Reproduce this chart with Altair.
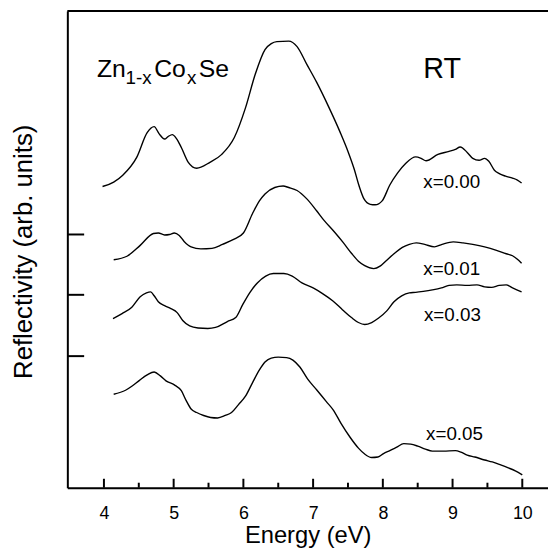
import altair as alt
import pandas as pd

# ---- data (energy in eV, reflectivity in arb. units) ----
energy_000 = [3.98, 4.14, 4.27, 4.47, 4.62, 4.72, 4.79, 4.87, 4.92, 4.98, 5.04, 5.11, 5.21, 5.33,
              5.52, 5.69, 5.87, 6.03, 6.17, 6.31, 6.40, 6.48, 6.65, 6.77, 6.91, 7.05, 7.23, 7.39,
              7.50, 7.59, 7.66, 7.73, 7.82, 7.89, 7.99, 8.10, 8.21, 8.33, 8.47, 8.55, 8.62, 8.79,
              8.95, 9.04, 9.11, 9.21, 9.29, 9.38, 9.46, 9.52, 9.60, 9.67, 9.76, 9.86, 9.93, 9.99]
refl_000 = [304.5, 309, 316, 334, 359, 365, 358, 352.5, 355, 357, 353, 344, 329, 323,
            329, 337, 354, 384, 418, 443, 449, 451, 451.5, 446, 428, 410, 384, 359,
            340, 322, 305, 292, 286.5, 286, 290, 306, 318, 328, 334.5, 333, 330.5, 337,
            340, 342, 344.5, 339, 333, 331, 333, 330, 321, 317.5, 315, 313, 311, 308]

energy_001 = [4.14, 4.33, 4.52, 4.71, 4.78, 4.87, 4.94, 5.01, 5.08, 5.15, 5.25, 5.39, 5.55, 5.70,
              5.86, 6.00, 6.13, 6.23, 6.31, 6.45, 6.57, 6.65, 6.77, 6.91, 7.05, 7.16, 7.30, 7.43,
              7.55, 7.65, 7.74, 7.87, 7.96, 8.04, 8.16, 8.28, 8.38, 8.48, 8.60, 8.74, 8.85, 9.01,
              9.15, 9.29, 9.46, 9.63, 9.77, 9.86, 9.93, 9.99]
refl_001 = [230.5, 234, 245, 257, 257.5, 255.5, 256, 257.5, 255, 249, 243.5, 241.5, 242, 246,
            251, 257.5, 277, 290, 297, 303.5, 305, 303.5, 300.5, 292, 280, 270, 259, 248,
            237, 229, 224.5, 221.5, 224, 229, 236.5, 243, 246, 247.5, 246, 243.5, 246, 248.5,
            247.5, 246, 243.5, 240, 236.5, 234.5, 231, 227]

energy_003 = [4.13, 4.26, 4.40, 4.52, 4.61, 4.67, 4.72, 4.78, 4.87, 4.96, 5.05, 5.13, 5.23, 5.35,
              5.49, 5.60, 5.77, 5.89, 5.99, 6.09, 6.20, 6.32, 6.43, 6.58, 6.70, 6.84, 7.00, 7.13,
              7.28, 7.42, 7.55, 7.65, 7.74, 7.84, 7.94, 8.06, 8.16, 8.27, 8.38, 8.47, 8.58, 8.71,
              8.84, 8.95, 9.06, 9.21, 9.35, 9.46, 9.56, 9.67, 9.77, 9.86, 9.99]
refl_003 = [171, 176, 182.5, 193, 197, 198, 194, 188, 184, 181, 177, 169, 163.5, 161.5,
            161, 162, 168, 172, 185, 197, 207, 214, 216.5, 216.5, 214, 207, 202, 196.5,
            189, 180, 172, 167, 165, 167, 171.5, 179, 188, 194, 197, 197.5, 198.5, 200,
            202, 204.5, 205, 204.5, 205, 203, 202.5, 204.5, 205, 202, 198]

energy_005 = [4.14, 4.31, 4.41, 4.51, 4.62, 4.72, 4.81, 4.89, 5.01, 5.11, 5.18, 5.25, 5.33, 5.43,
              5.53, 5.63, 5.74, 5.83, 5.93, 6.03, 6.13, 6.23, 6.31, 6.40, 6.50, 6.62, 6.71, 6.81,
              6.92, 7.05, 7.19, 7.29, 7.40, 7.53, 7.65, 7.74, 7.84, 7.93, 8.01, 8.10, 8.20, 8.30,
              8.40, 8.50, 8.61, 8.71, 8.87, 9.04, 9.12, 9.21, 9.32, 9.46, 9.57, 9.69, 9.80, 9.90,
              10.00]
refl_005 = [94.5, 98.5, 103, 108.5, 114, 117, 113, 108, 104, 98, 88, 79.5, 76, 73,
            71, 70.5, 73, 76, 84, 92.5, 106, 119, 127, 131, 132, 131.5, 129, 122,
            110, 99, 87, 78.5, 65, 51, 40, 34, 30.5, 31, 34.5, 37.5, 41, 44.5,
            44, 42, 39, 37, 37, 37.5, 36, 33, 31, 28, 26, 23, 20, 17,
            13]

series_names = ["x=0.00", "x=0.01", "x=0.03", "x=0.05"]
label_energy = [8.58, 8.58, 8.59, 8.62]
label_refl = [303, 215, 169, 48]

major_ticks = [4, 5, 6, 7, 8, 9, 10]
minor_ticks = [4.5, 5.5, 6.5, 7.5, 8.5, 9.5]
y_ticks = [133, 195, 256]

# formula annotation tokens (text, energy, refl, is_subscript)
formula_text = ["Zn", "1-x", "Co", "x", "Se"]
formula_energy = [3.90, 4.31, 4.72, 5.19, 5.36]
formula_refl = [415, 408, 415, 408, 415]
formula_sub = [False, True, False, True, False]

# ---- layout ----
X0, X1 = 3.4752, 10.3688
Y0, Y1 = 0, 482
W, H = 486, 482
FONT = "Liberation Sans"

frames = []
for name, e, r in zip(series_names, [energy_000, energy_001, energy_003, energy_005],
                      [refl_000, refl_001, refl_003, refl_005]):
    frames.append(pd.DataFrame({"E": e, "R": r, "series": name}))
df = pd.concat(frames, ignore_index=True)

xs = alt.Scale(domain=[X0, X1], nice=False, zero=False)
ys = alt.Scale(domain=[Y0, Y1], nice=False, zero=False)

x_axis = alt.Axis(
    values=major_ticks, title="Energy (eV)", ticks=False, labelPadding=17,
    labelFontSize=18, labelFont=FONT, labelColor="black",
    titleFontSize=24, titleFont=FONT, titleFontWeight="normal", titleColor="black",
    titlePadding=1, domainColor="black", domainWidth=2, grid=False)
y_axis = alt.Axis(
    labels=False, ticks=False, title="Reflectivity (arb. units)",
    titleFontSize=26, titleFont=FONT, titleFontWeight="normal", titleColor="black",
    titleX=-44, titleY=243, titleBaseline="middle", titleAlign="center", titleAngle=270,
    domainColor="black", domainWidth=2, grid=False)

lines = alt.Chart(df).mark_line(color="black", strokeWidth=1.4, interpolate="monotone").encode(
    x=alt.X("E:Q", scale=xs, axis=x_axis),
    y=alt.Y("R:Q", scale=ys, axis=y_axis),
    detail="series:N",
)

tick_df = pd.DataFrame({
    "E": major_ticks + minor_ticks,
    "y0": [0] * (len(major_ticks) + len(minor_ticks)),
    "y1": [9] * len(major_ticks) + [5] * len(minor_ticks),
})
ticks_x = alt.Chart(tick_df).mark_rule(color="black", strokeWidth=2).encode(
    x=alt.X("E:Q", scale=xs, axis=x_axis),
    y=alt.Y("y0:Q", scale=ys, axis=y_axis),
    y2="y1:Q",
)

ytick_df = pd.DataFrame({"R": y_ticks, "x0": [X0] * len(y_ticks), "x1": [X0 + 17 / 70.5] * len(y_ticks)})
ticks_y = alt.Chart(ytick_df).mark_rule(color="black", strokeWidth=2).encode(
    y=alt.Y("R:Q", scale=ys, axis=y_axis),
    x=alt.X("x0:Q", scale=xs, axis=x_axis),
    x2="x1:Q",
)

top_border = alt.Chart(pd.DataFrame({"a": [0]})).mark_rule(color="black", strokeWidth=2).encode(
    x=alt.value(0), x2=alt.value(W), y=alt.value(0)
)

label_df = pd.DataFrame({"E": label_energy, "R": label_refl, "t": series_names})
labels = alt.Chart(label_df).mark_text(align="left", baseline="alphabetic", fontSize=19,
                                       font=FONT, color="black").encode(
    x=alt.X("E:Q", scale=xs, axis=x_axis),
    y=alt.Y("R:Q", scale=ys, axis=y_axis),
    text="t:N",
)

fdf = pd.DataFrame({"E": formula_energy, "R": formula_refl, "t": formula_text, "sub": formula_sub})
formula_main = alt.Chart(fdf[~fdf["sub"]]).mark_text(align="left", baseline="alphabetic", fontSize=25,
                                                      font=FONT, color="black").encode(
    x=alt.X("E:Q", scale=xs, axis=x_axis), y=alt.Y("R:Q", scale=ys, axis=y_axis), text="t:N")
formula_sub_m = alt.Chart(fdf[fdf["sub"]]).mark_text(align="left", baseline="alphabetic", fontSize=19,
                                                      font=FONT, color="black").encode(
    x=alt.X("E:Q", scale=xs, axis=x_axis), y=alt.Y("R:Q", scale=ys, axis=y_axis), text="t:N")

rt = alt.Chart(pd.DataFrame({"E": [8.85], "R": [414], "t": ["RT"]})).mark_text(
    align="center", baseline="alphabetic", fontSize=29, font=FONT, color="black").encode(
    x=alt.X("E:Q", scale=xs, axis=x_axis), y=alt.Y("R:Q", scale=ys, axis=y_axis), text="t:N")

chart = alt.layer(lines, ticks_x, ticks_y, top_border, labels, formula_main, formula_sub_m, rt).properties(
    width=W, height=H,
    autosize=alt.AutoSizeParams(type="none"),
    padding={"left": 60, "top": 0, "right": 0, "bottom": 58},
).configure_view(strokeWidth=0).configure(background="white")

chart.save("out.html", embed_options={"renderer": "svg", "actions": False})
